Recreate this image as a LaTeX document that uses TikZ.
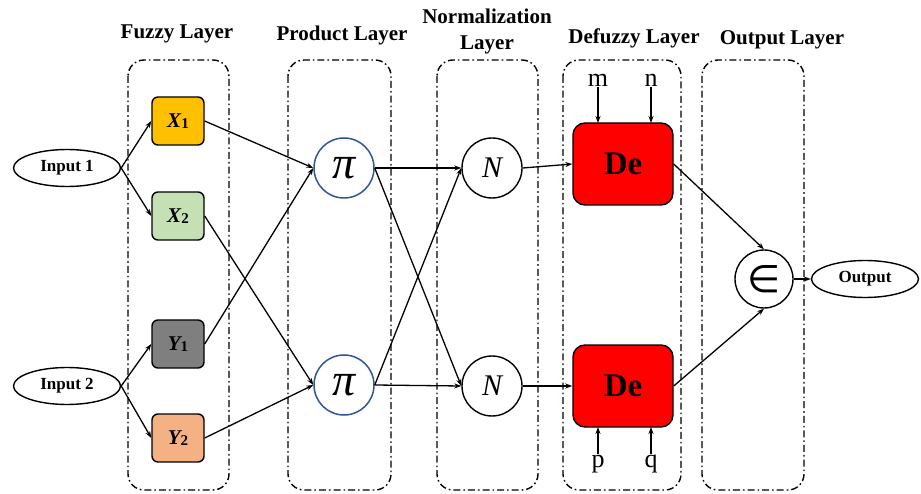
\documentclass[tikz,border=0pt]{standalone}
\usepackage{fontspec}
\setmainfont{Liberation Serif}
\newfontfamily\dejavu{DejaVu Sans}
\usetikzlibrary{shapes.geometric,arrows.meta}
\definecolor{cx1}{HTML}{FFC000}
\definecolor{cx2}{HTML}{C5E0B4}
\definecolor{cy1}{HTML}{7F7F7F}
\definecolor{cy2}{HTML}{F4B183}
\definecolor{cpi}{HTML}{2F5597}
\definecolor{cde}{HTML}{FF0000}
\newcommand{\fz}[1]{\fontsize{#1pt}{1.2\dimexpr#1pt\relax}\selectfont}
\newcommand{\mfvar}[2]{{\fz{21}\bfseries\itshape #1}\raisebox{-0.3ex}{\fz{15}\bfseries #2}}
\begin{document}
\begin{tikzpicture}[x=1pt,y=-1pt,
  layerbox/.style={draw,line width=1.4pt,rounded corners=16pt,dash pattern=on 7pt off 3pt on 1.6pt off 3pt},
  title/.style={font=\fz{21}\bfseries,align=center},
  ell/.style={draw,ellipse,line width=1.4pt,minimum width=107pt,minimum height=37pt,inner sep=0pt,font=\fz{17}\bfseries},
  fbox/.style={draw,line width=1.4pt,rounded corners=6pt,minimum width=52pt,minimum height=48pt,inner sep=0pt},
  pinode/.style={draw=cpi,circle,line width=1.5pt,minimum size=60pt,inner sep=0pt,font=\fz{46}\itshape},
  cnode/.style={draw,circle,line width=1.4pt,minimum size=60pt,inner sep=0pt},
  denode/.style={draw,fill=cde,line width=1.4pt,rounded corners=12pt,minimum width=100pt,minimum height=82pt,inner sep=0pt,font=\fz{33}\bfseries},
  lbl/.style={font=\fz{26},inner sep=1pt},
  arr/.style={line width=1.3pt,-{Stealth[length=7pt,width=5pt]}}]
\useasboundingbox (0,0) rectangle (921,494);
% layer boxes
\draw[layerbox] (128,60) rectangle (229,490);
\draw[layerbox] (288,60) rectangle (391,490);
\draw[layerbox] (437,60) rectangle (538,490);
\draw[layerbox] (563,60) rectangle (681,490);
\draw[layerbox] (702,60) rectangle (804,490);
% titles
\node[title] (t1) at (177,34) {Fuzzy Layer};
\node[title] (t2) at (342,35) {Product Layer};
\node[title,font=\fontsize{21pt}{26pt}\selectfont\bfseries] (t3) at (487,31) {Normalization\\Layer};
\node[title] (t4) at (634,38) {Defuzzy Layer};
\node[title] (t5) at (782,40) {Output Layer};
% nodes
\node[ell] (in1) at (67,168) {Input 1};
\node[ell] (in2) at (67,386) {Input 2};
\node[fbox,fill=cx1] (x1) at (178,121) {\mfvar{X}{1}};
\node[fbox,fill=cx2] (x2) at (178,216) {\mfvar{X}{2}};
\node[fbox,fill=cy1] (y1) at (178,344) {\mfvar{Y}{1}};
\node[fbox,fill=cy2] (y2) at (178,438) {\mfvar{Y}{2}};
\node[pinode] (p1) at (344,168) {π};
\node[pinode] (p2) at (344,385) {π};
\node[cnode,font=\fz{30}\itshape] (n1) at (492,168) {N};
\node[cnode,font=\fz{30}\itshape] (n2) at (492,386) {N};
\node[denode] (d1) at (623,164) {De};
\node[denode] (d2) at (623,386) {De};
\node[cnode,minimum size=58pt,font=\fz{38}\dejavu] (e) at (764,279) {∈};
\node[ell] (out) at (865,279) {Output};
\node[lbl] (m) at (598,80) {m};
\node[lbl] (n) at (651,80) {n};
\node[lbl] (p) at (598,464) {p};
\node[lbl] (q) at (651,464) {q};
\coordinate (mt) at (598,123);
\coordinate (nt) at (651,123);
\coordinate (pb) at (598,427);
\coordinate (qb) at (651,427);
% connectors
\draw[arr] (in1.east) -- (x1.west);
\draw[arr] (in1.east) -- (x2.west);
\draw[arr] (in2.east) -- (y1.west);
\draw[arr] (in2.east) -- (y2.west);
\draw[arr] (x1.east) -- (p1.west);
\draw[arr] (y1.east) -- (p1.west);
\draw[arr] (x2.east) -- (p2.west);
\draw[arr] (y2.east) -- (p2.west);
\draw[arr] (p1.east) -- (n1.west);
\draw[arr] (p1.east) -- (n2.west);
\draw[arr] (p2.east) -- (n1.west);
\draw[arr] (p2.east) -- (n2.west);
\draw[arr] (n1.east) -- (d1.west);
\draw[arr] (n2.east) -- (d2.west);
\draw[arr] (d1.east) -- (e.north);
\draw[arr] (d2.east) -- (e.south);
\draw[arr] (e.east) -- (out.west);
\draw[arr] (m.south) -- (mt);
\draw[arr] (n.south) -- (nt);
\draw[arr] (p.north) -- (pb);
\draw[arr] (q.north) -- (qb);
\end{tikzpicture}
\end{document}
